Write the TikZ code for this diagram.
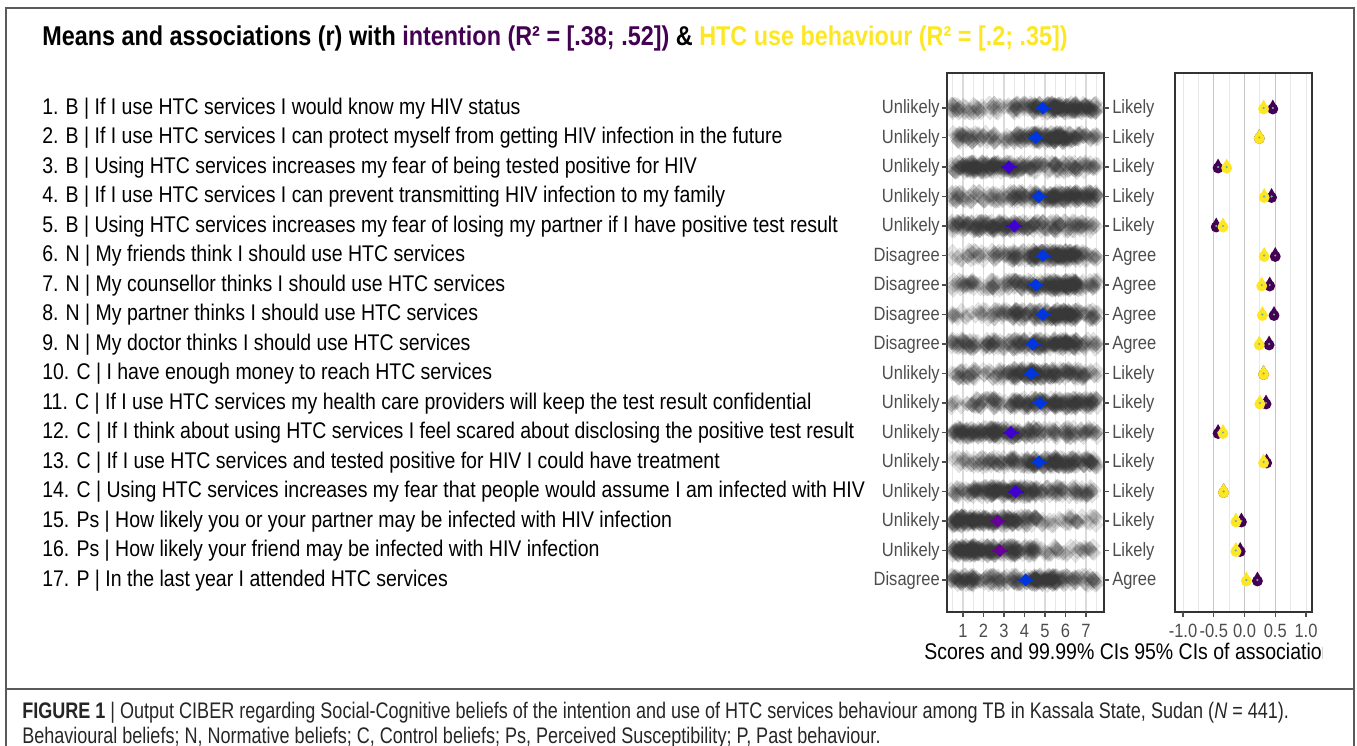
\documentclass[tikz,border=0pt]{standalone}
\usepackage{fontspec}
\setmainfont{Liberation Sans}
\newfontfamily\narrow[FakeStretch=0.86]{Liberation Sans}
\newfontfamily\capfont[FakeStretch=0.8]{Liberation Sans}
\definecolor{vpurple}{HTML}{440154}
\definecolor{vyellow}{HTML}{FDE725}
\definecolor{axisgray}{HTML}{4D4D4D}
\definecolor{framegray}{HTML}{5A5A5A}
\definecolor{mblue}{HTML}{0036E0}
\definecolor{mviolet}{HTML}{4000D0}
\definecolor{mpurple}{HTML}{660099}
\newcommand{\cimark}[3]{%
  \fill[#3] (#1,#2+1) circle (4.1pt);
  \fill[#3] (#1-4.8,#2) -- (#1,#2-8.5) -- (#1+4.8,#2) -- cycle;
  \fill[teal!60] (#1,#2) circle (0.9pt);
}
\tikzset{
  item/.style={anchor=base west, inner sep=0pt, font=\narrow\fontsize{17}{19}\selectfont},
  lowlab/.style={anchor=base east, inner sep=0pt, text=axisgray, font=\narrow\fontsize{14.4}{16}\selectfont},
  highlab/.style={anchor=base west, inner sep=0pt, text=axisgray, font=\narrow\fontsize{14.4}{16}\selectfont},
  ticklab/.style={anchor=base, inner sep=0pt, text=axisgray, font=\narrow\fontsize{14.4}{16}\selectfont},
  axtitle/.style={anchor=base west, inner sep=0pt, font=\narrow\fontsize{17}{19}\selectfont},
  captext/.style={anchor=base west, inner sep=0pt, text=black!85, font=\capfont\fontsize{16.9}{18}\selectfont},
  jit/.style={fill=black!78, fill opacity=0.13, draw=black!78, draw opacity=0.1, line width=0.3pt},
  panel/.style={draw=black!80, line width=1.1pt},
  tick/.style={draw=axisgray, line width=0.8pt}
}
\begin{document}
\begin{tikzpicture}[x=0.75pt,y=-0.75pt]
\useasboundingbox (0,0) rectangle (1357,746);
\draw[framegray, line width=1pt] (6,760) -- (6,8) -- (1354,8) -- (1354,760);
\draw[framegray, line width=1pt] (6,689) -- (1354,689);

\node[anchor=base west, inner sep=0pt, font=\narrow\bfseries\fontsize{20.4}{22}\selectfont] (title) at (42,45)
  {Means and associations (r) with \textcolor{vpurple}{intention (R² = [.38; .52])} \& \textcolor{vyellow}{HTC use behaviour (R² = [.2; .35])}};

\foreach \t [count=\r] in {
  1. B | If I use HTC services I would know my HIV status,
  2. B | If I use HTC services I can protect myself from getting HIV infection in the future,
  3. B | Using HTC services increases my fear of being tested positive for HIV,
  4. B | If I use HTC services I can prevent transmitting HIV infection to my family,
  5. B | Using HTC services increases my fear of losing my partner if I have positive test result,
  6. N | My friends think I should use HTC services,
  7. N | My counsellor thinks I should use HTC services,
  8. N | My partner thinks I should use HTC services,
  9. N | My doctor thinks I should use HTC services,
  10. C | I have enough money to reach HTC services,
  11. C | If I use HTC services my health care providers will keep the test result confidential,
  12. C | If I think about using HTC services I feel scared about disclosing the positive test result,
  13. C | If I use HTC services and tested positive for HIV I could have treatment,
  14. C | Using HTC services increases my fear that people would assume I am infected with HIV,
  15. Ps | How likely you or your partner may be infected with HIV infection,
  16. Ps | How likely your friend may be infected with HIV infection,
  17. P | In the last year I attended HTC services}
  \node[item] (item\r) at (42,{84.5+29.5*\r}) {\t};

% scores panel
\fill[white] (947,73) rectangle (1104,612);
\foreach \s in {0.5,1.5,...,7.5}
  \draw[black!9, line width=0.6pt] ({942.5+20.5*\s},73) -- ({942.5+20.5*\s},612);
\foreach \s in {1,...,7}
  \draw[black!14, line width=0.8pt] ({942.5+20.5*\s},73) -- ({942.5+20.5*\s},612);
\begin{scope}
\clip (947,73) rectangle (1104,612);
\pgfmathsetseed{441}
\foreach \w [count=\r] in {
  {2,1,1,3,4,5,4}, {2,2,1,3,5,5,2}, {4,5,4,3,2,2,2}, {2,1,2,3,4,4,4},
  {3,4,4,3,2,2,2}, {1,1,2,3,5,6,2}, {2,1,2,3,4,6,2}, {1,1,2,3,4,6,2},
  {3,2,2,3,4,5,2}, {2,1,2,5,4,3,2}, {1,2,2,3,4,4,4}, {4,4,4,3,2,2,2},
  {1,2,2,3,4,5,3}, {2,4,5,4,2,2,2}, {6,5,4,3,1,1,1}, {6,5,4,3,1,1,1},
  {4,2,2,3,6,2,2}}
  \foreach \n [count=\k] in \w {
    \pgfmathtruncatemacro\m{13*\n}
    \foreach \i in {1,...,\m} {
      \pgfmathsetmacro\px{942.5+20.5*(\k+0.58*rand)}
      \pgfmathsetmacro\py{78.5+29.5*\r+5*rand}
      \path[jit] (\px,\py) +(-7.2,0) -- +(0,-7.5) -- +(7.2,0) -- +(0,7.5) -- cycle;
    }
  };
\foreach \m/\c [count=\r] in {4.89/mblue, 4.55/mblue, 3.24/mviolet, 4.7/mblue, 3.5/mviolet,
  4.89/mblue, 4.55/mblue, 4.9/mblue, 4.4/mblue, 4.32/mblue, 4.76/mblue, 3.33/mviolet,
  4.7/mblue, 3.57/mviolet, 2.69/mpurple, 2.8/mpurple, 4.06/mblue} {
  \pgfmathsetmacro\px{942.5+20.5*\m}
  \draw[\c, line width=1.5pt] (\px-8,78.5+29.5*\r) -- (\px+8,78.5+29.5*\r);
  \fill[\c] (\px,78.5+29.5*\r) +(-6.5,0) -- +(0,-6.5) -- +(6.5,0) -- +(0,6.5) -- cycle;
}
\end{scope}
\draw[panel] (947,73) rectangle (1104,612);

% associations panel
\foreach \a in {-1,-0.75,...,1}
  \draw[black!9, line width=0.6pt] ({1244.5+61.5*\a},73) -- ({1244.5+61.5*\a},612);
\foreach \a in {-0.5,0,0.5}
  \draw[black!22, line width=1pt] ({1244.5+61.5*\a},73) -- ({1244.5+61.5*\a},612);
\foreach \a/\b [count=\r] in {0.46/0.31, 0.24/0.24, -0.43/-0.29, 0.44/0.32, -0.46/-0.35,
  0.50/0.32, 0.41/0.28, 0.48/0.29, 0.40/0.24, 0.31/0.31, 0.35/0.25, -0.43/-0.35,
  0.36/0.31, -0.34/-0.34, -0.05/-0.14, -0.07/-0.14, 0.21/0.03} {
  \pgfmathsetmacro\xa{1244.5+61.5*\a}
  \pgfmathsetmacro\xb{1244.5+61.5*\b}
  \pgfmathsetmacro\yr{78.5+29.5*\r}
  \cimark{\xa}{\yr}{vpurple}
  \cimark{\xb}{\yr}{vyellow}
}
\draw[panel] (1175,73) rectangle (1312,612);

% axes
\foreach \lo/\hi [count=\r] in {Unlikely/Likely, Unlikely/Likely, Unlikely/Likely, Unlikely/Likely,
  Unlikely/Likely, Disagree/Agree, Disagree/Agree, Disagree/Agree, Disagree/Agree,
  Unlikely/Likely, Unlikely/Likely, Unlikely/Likely, Unlikely/Likely, Unlikely/Likely,
  Unlikely/Likely, Unlikely/Likely, Disagree/Agree} {
  \draw[tick] (942,78.5+29.5*\r) -- (947,78.5+29.5*\r);
  \draw[tick] (1104,78.5+29.5*\r) -- (1109,78.5+29.5*\r);
  \node[lowlab] (lo\r) at (940,84+29.5*\r) {\lo};
  \node[highlab] (hi\r) at (1112,84+29.5*\r) {\hi};
}
\foreach \s in {1,...,7} {
  \draw[tick] ({942.5+20.5*\s},612) -- ({942.5+20.5*\s},617);
  \node[ticklab] (sc\s) at ({942.5+20.5*\s},637) {\s};
}
\foreach \a/\l [count=\i] in {-1/-1.0, -0.5/-0.5, 0/0.0, 0.5/0.5, 1/1.0} {
  \draw[tick] ({1244.5+61.5*\a},612) -- ({1244.5+61.5*\a},617);
  \node[ticklab] (as\i) at ({1244.5+61.5*\a},637) {\l};
}
\node[axtitle] (scoretitle) at (924,659) {Scores and 99.99\% CIs};
\begin{scope}
\clip (1130,640) rectangle (1322,670);
\node[axtitle] (assoctitle) at (1134,659) {95\% CIs of associations};
\end{scope}

% caption
\node[captext] (cap1) at (22,718)
  {\textbf{FIGURE 1} | Output CIBER regarding Social-Cognitive beliefs of the intention and use of HTC services behaviour among TB in Kassala State, Sudan (\textit{N} = 441).};
\node[captext] (cap2) at (22,743)
  {Behavioural beliefs; N, Normative beliefs; C, Control beliefs; Ps, Perceived Susceptibility; P, Past behaviour.};
\end{tikzpicture}
\end{document}
